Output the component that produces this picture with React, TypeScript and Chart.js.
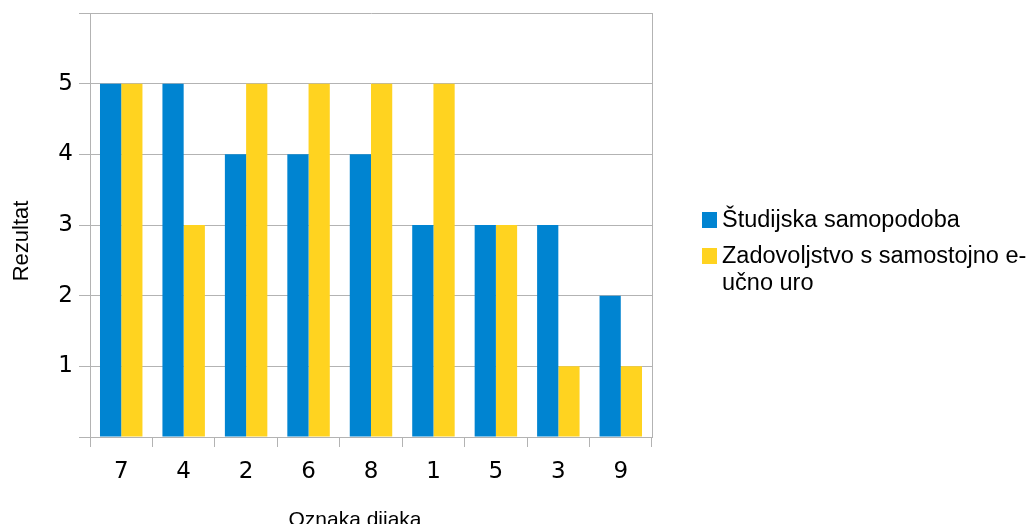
import React, { useEffect, useRef } from "react";
import { Chart, registerables } from "chart.js";

Chart.register(...registerables);

// Student codes along the x axis
const students = ["7", "4", "2", "6", "8", "1", "5", "3", "9"];

// Scores per student
const selfImage = [5, 5, 4, 4, 4, 3, 3, 3, 2];
const satisfaction = [5, 3, 5, 5, 5, 5, 3, 1, 1];

const seriesNames = ["Študijska samopodoba", "Zadovoljstvo s samostojno e-učno uro"];
// Legend text broken into lines as it is shown
const legendLines = [["Študijska samopodoba"], ["Zadovoljstvo s samostojno e-", "učno uro"]];
const seriesColors = ["#0084d1", "#ffd320"];

const yTitle = "Rezultat";
const xTitle = "Oznaka dijaka";

const FONT = "'Liberation Sans', Arial, sans-serif";
const TICK_FONT = "'DejaVu Sans', sans-serif";
const GRID = "#b3b3b3";

const decorPlugin = {
  id: "decor",
  afterDraw(chart: any) {
    const { ctx, chartArea } = chart;
    ctx.save();
    // right edge of the plot frame
    ctx.strokeStyle = GRID;
    ctx.lineWidth = 1;
    ctx.beginPath();
    const rx = Math.round(chartArea.right) + 0.5;
    ctx.moveTo(rx, chartArea.top);
    ctx.lineTo(rx, chartArea.bottom);
    ctx.stroke();

    // axis titles
    ctx.fillStyle = "#000";
    ctx.font = `21px ${FONT}`;
    ctx.textAlign = "center";
    ctx.textBaseline = "alphabetic";
    ctx.fillText(xTitle, (chartArea.left + chartArea.right) / 2 - 16, 526);

    ctx.save();
    ctx.translate(28, (chartArea.top + chartArea.bottom) / 2 + 16);
    ctx.rotate(-Math.PI / 2);
    ctx.font = `22px ${FONT}`;
    ctx.fillText(yTitle, 0, 0);
    ctx.restore();

    // legend
    const lx = chartArea.right + 50;
    let y = 212;
    ctx.font = `23.5px ${FONT}`;
    ctx.textAlign = "left";
    ctx.textBaseline = "middle";
    legendLines.forEach((lines, i) => {
      ctx.fillStyle = seriesColors[i];
      ctx.fillRect(lx, y, 15, 16);
      ctx.fillStyle = "#000";
      lines.forEach((line, j) => {
        ctx.fillText(line, lx + 20, y + 9 + j * 27);
      });
      y += 36;
    });
    ctx.restore();
  },
};

export default function App() {
  const ref = useRef<HTMLCanvasElement>(null);

  useEffect(() => {
    if (!ref.current) return;
    const chart = new Chart(ref.current, {
      type: "bar",
      data: {
        labels: students,
        datasets: [
          { label: seriesNames[0], data: selfImage, backgroundColor: seriesColors[0] },
          { label: seriesNames[1], data: satisfaction, backgroundColor: seriesColors[1] },
        ],
      },
      options: {
        responsive: false,
        animation: false,
        layout: { padding: { top: 13, right: 378, left: 0, bottom: 0 } },
        datasets: { bar: { categoryPercentage: 0.68, barPercentage: 1.0 } },
        plugins: {
          legend: { display: false },
          tooltip: { enabled: false },
        },
        scales: {
          x: {
            afterFit: (s: any) => {
              s.height = 87;
              s.paddingLeft = 0;
              s.paddingRight = 0;
            },
            grid: {
              offset: true,
              drawOnChartArea: false,
              drawTicks: true,
              tickLength: 10,
              color: GRID,
            },
            border: { color: GRID },
            ticks: {
              color: "#000",
              font: { family: TICK_FONT, size: 23 },
              padding: 11,
            },
          },
          y: {
            min: 0,
            max: 6,
            afterFit: (s: any) => {
              s.width = 90;
              s.paddingTop = 0;
              s.paddingBottom = 0;
            },
            grid: { color: GRID, tickLength: 11 },
            border: { color: GRID },
            ticks: {
              stepSize: 1,
              color: "#000",
              font: { family: TICK_FONT, size: 23 },
              padding: 6,
              callback: (v: any) => (v === 0 || v === 6 ? "" : String(v)),
            },
          },
        },
      },
      plugins: [decorPlugin],
    });
    return () => chart.destroy();
  }, []);

  return (
    <div style={{ position: "fixed", left: 0, top: 0, width: 1030, height: 524, background: "#fff" }}>
      <canvas ref={ref} width={1030} height={524} />
    </div>
  );
}
